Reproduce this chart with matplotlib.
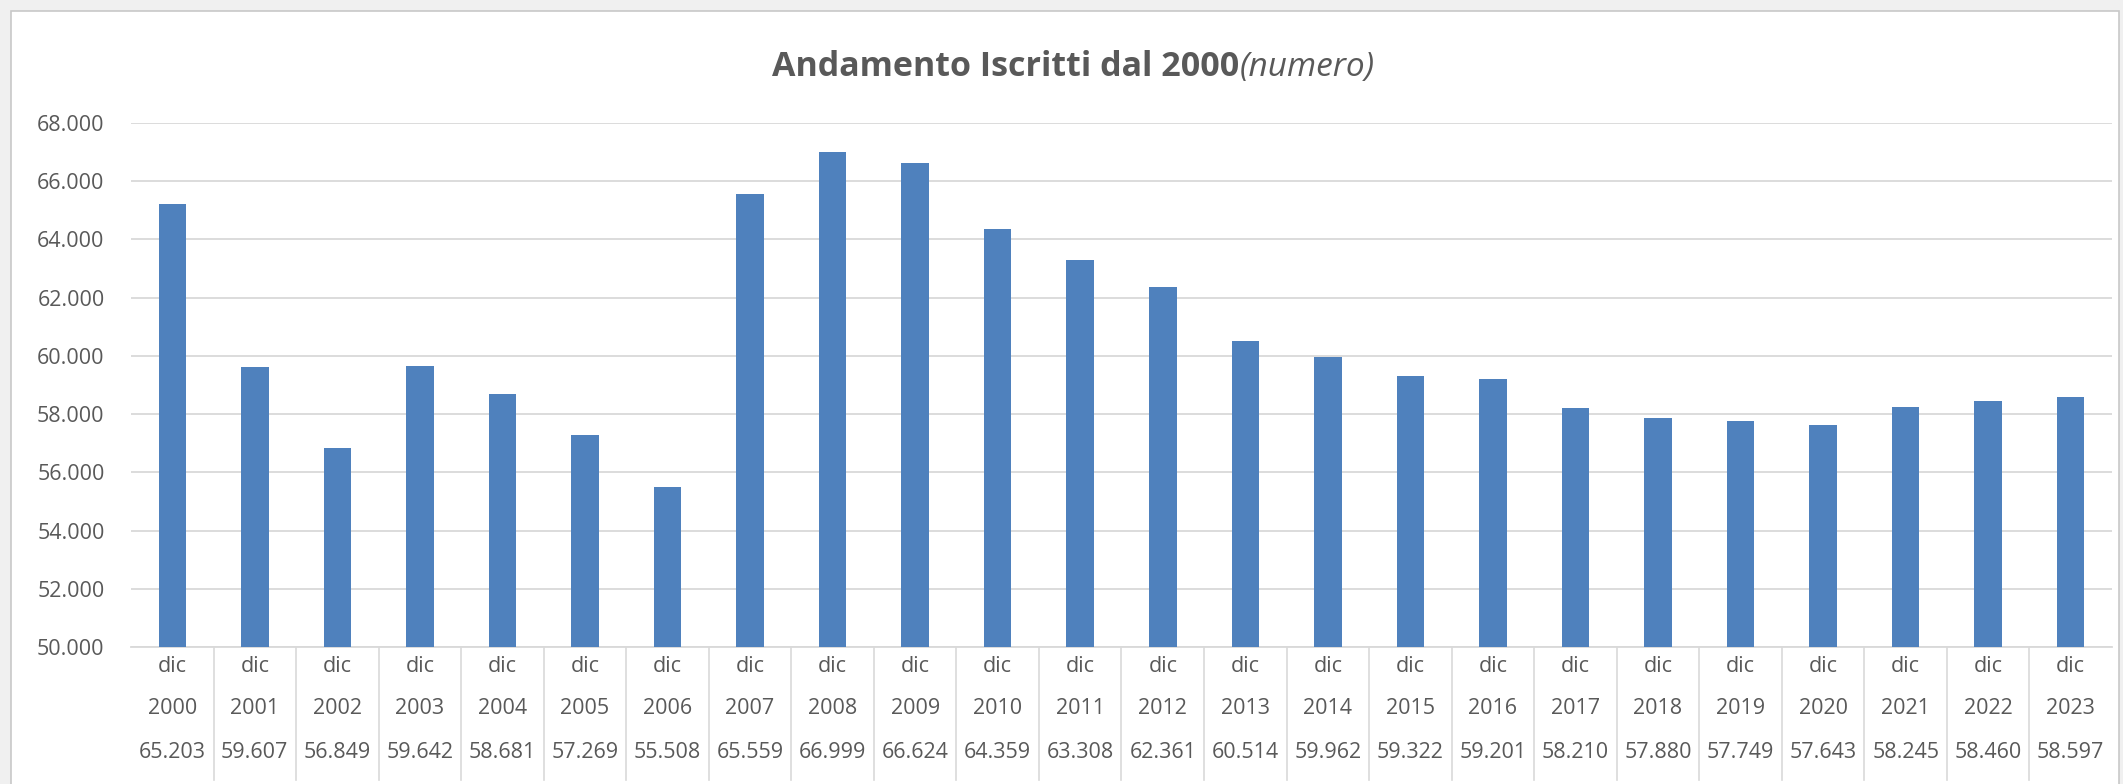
import matplotlib.pyplot as plt
from matplotlib.patches import Rectangle
from matplotlib.ticker import FuncFormatter

# data
years = [2000, 2001, 2002, 2003, 2004, 2005, 2006, 2007, 2008, 2009, 2010, 2011,
         2012, 2013, 2014, 2015, 2016, 2017, 2018, 2019, 2020, 2021, 2022, 2023]
iscritti = [65203, 59607, 56849, 59642, 58681, 57269, 55508, 65559, 66999, 66624, 64359, 63308,
            62361, 60514, 59962, 59322, 59201, 58210, 57880, 57749, 57643, 58245, 58460, 58597]
month = "dic"

W, H = 2123, 784
plt.rcParams['font.family'] = ['Open Sans', 'DejaVu Sans']
grey = "#595959"
blue = "#4F81BD"
line_c = "#d9d9d9"

fig = plt.figure(figsize=(W / 100, H / 100), dpi=100)
fig.patch.set_facecolor("#f0f0f0")

# white chart area
fig.add_artist(Rectangle((11 / W, -0.05), (2119 - 11) / W, 1.05 - 11 / H,
                         transform=fig.transFigure, facecolor="white",
                         edgecolor="#c8c8c8", linewidth=1.2, zorder=-5))


def fmt(v):
    return f"{v:,.0f}".replace(",", ".")


left, right, top, bottom = 131, 2112, 123, 647
ax = fig.add_axes([left / W, 1 - bottom / H, (right - left) / W, (bottom - top) / H])
ax.set_facecolor("none")

x = list(range(len(years)))
ax.bar(x, iscritti, width=1 / 3, color=blue, zorder=3)
ax.set_xlim(-0.5, len(years) - 0.5)
ax.set_ylim(50000, 68000)
ax.set_yticks(range(50000, 68001, 2000))
ax.yaxis.set_major_formatter(FuncFormatter(lambda v, p: fmt(v)))
ax.grid(axis="y", color=line_c, linewidth=1.3, zorder=0)
ax.tick_params(axis="y", length=0, pad=19, labelsize=15.5, labelcolor=grey)
ax.set_xticks([])
for s in ["top", "right", "left"]:
    ax.spines[s].set_visible(False)
ax.spines["bottom"].set_color(line_c)
ax.spines["bottom"].set_linewidth(1.3)

# data table under the axis
tr = ax.get_xaxis_transform()
rows_y = [666, 709, 752]
for i, (yr, v) in enumerate(zip(years, iscritti)):
    xf = (left + (i + 0.5) * (right - left) / len(years)) / W
    fig.text(xf, 1 - rows_y[0] / H, month, fontsize=15.5, color=grey, ha="center", va="center")
    fig.text(xf, 1 - rows_y[1] / H, str(yr), fontsize=15.5, color=grey, ha="center", va="center")
    fig.text(xf, 1 - rows_y[2] / H, fmt(v), fontsize=15.5, color=grey, ha="center", va="center")
for i in range(1, len(years)):
    ax.plot([i - 0.5, i - 0.5], [0, -(780 - bottom) / (bottom - top)], transform=tr,
            color=line_c, linewidth=1.2, clip_on=False)

# title: bold part + italic part
t1 = fig.text(772 / W, 1 - 76 / H, "Andamento Iscritti dal 2000", fontsize=24.5,
              fontweight="bold", color=grey, ha="left", va="baseline")
fig.canvas.draw()
bb = t1.get_window_extent()
fig.text(bb.x1 / W, 1 - 76 / H, "(numero)", fontsize=24, fontstyle="italic",
         color=grey, ha="left", va="baseline")

fig.savefig("out.png", dpi=100)
